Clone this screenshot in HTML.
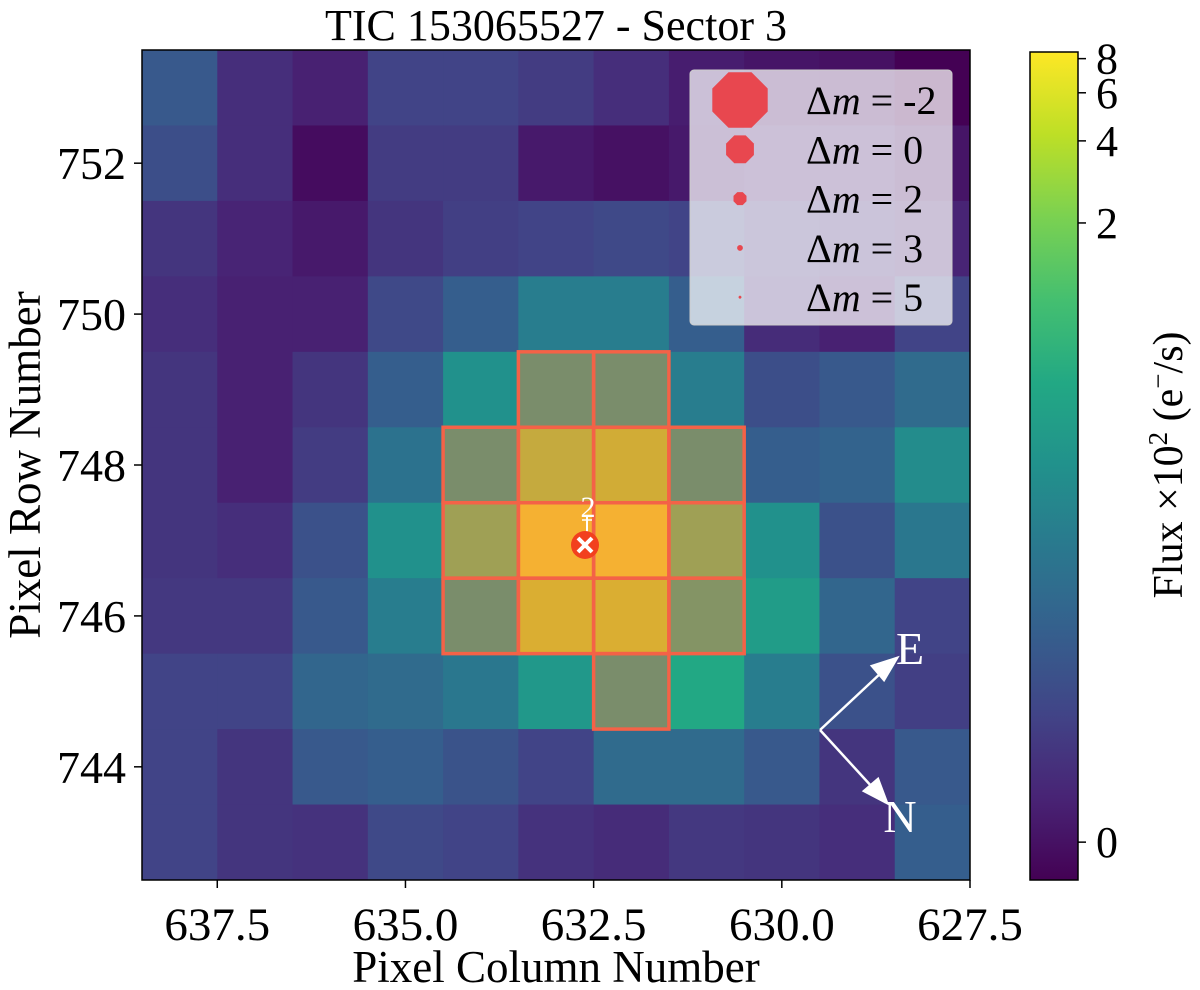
<!DOCTYPE html>
<html><head><meta charset="utf-8">
<style>
html,body{margin:0;padding:0;background:#fff;}
svg{display:block;font-family:"Liberation Serif","DejaVu Serif",serif;}
</style></head>
<body>
<svg id="chart" width="1200" height="990" viewBox="0 0 1200 990">
<g id="cells"></g>
<g id="aper"></g>
<rect x="142" y="50" width="828" height="830" fill="none" stroke="#000" stroke-width="1.5"/>
<g id="xticks"></g>
<g id="yticks"></g>
<text x="556" y="40" font-size="44" text-anchor="middle">TIC 153065527 - Sector 3</text>
<text x="556" y="982" font-size="45" text-anchor="middle">Pixel Column Number</text>
<text x="40" y="465" font-size="45" text-anchor="middle" transform="rotate(-90 40 465)">Pixel Row Number</text>
<g>
<line x1="587" y1="517" x2="587" y2="534" stroke="#fff" stroke-width="2"/>
<line x1="582" y1="520" x2="592" y2="520" stroke="#fff" stroke-width="1.5"/>
<text x="588" y="517" font-size="30" fill="#fff" text-anchor="middle">2</text>
<circle cx="585" cy="545" r="14" fill="#f2401e"/>
<path d="M578 538 L592 552 M592 538 L578 552" stroke="#fff" stroke-width="4"/>
</g>
<g>
<rect x="690" y="70" width="262" height="255" rx="4" fill="rgba(255,255,255,0.72)" stroke="#ccc"/>
<g id="legend-items"></g>
</g>
<g stroke="#fff" stroke-width="2.5" fill="#fff">
<line x1="820" y1="730" x2="882" y2="672"/>
<polygon points="897,658 872,666 884,680"/>
<line x1="820" y1="730" x2="873" y2="788"/>
<polygon points="887,803 878,779 864,791"/>
<text x="910" y="664" font-size="46" stroke="none" text-anchor="middle">E</text>
<text x="900" y="832" font-size="46" stroke="none" text-anchor="middle">N</text>
</g>
<defs><linearGradient id="cg" x1="0" y1="1" x2="0" y2="0"></linearGradient></defs>
<rect x="1030" y="52" width="48" height="828" fill="url(#cg)" stroke="#000" stroke-width="1.5"/>
<g id="cticks"></g>
<text x="1182" y="465" font-size="42" text-anchor="middle" transform="rotate(-90 1182 465)">Flux ×10<tspan dy="-15" font-size="27">2</tspan><tspan dy="15"> (e</tspan><tspan dy="-15" font-size="27">−</tspan><tspan dy="15">/s)</tspan></text>
</svg>
<script>
const rows = [753,752,751,750,749,748,747,746,745,744,743];
const cols = [638,637,636,635,634,633,632,631,630,629,628];
const flux = [
 [0.044,0.009,0.004,0.021,0.021,0.016,0.009,0.003,0.001,0.000,-0.003],
 [0.031,0.009,-0.001,0.016,0.016,0.002,0.000,0.002,0.004,0.004,0.001],
 [0.012,0.005,0.002,0.012,0.018,0.021,0.026,0.021,0.012,0.008,0.005],
 [0.009,0.004,0.004,0.026,0.052,0.137,0.137,0.052,0.008,0.004,0.021],
 [0.012,0.004,0.012,0.052,0.247,0.512,0.512,0.137,0.031,0.044,0.079],
 [0.012,0.004,0.016,0.100,0.512,3.07,3.80,0.512,0.052,0.062,0.215],
 [0.012,0.009,0.034,0.247,1.50,7.20,7.20,1.50,0.247,0.034,0.116],
 [0.014,0.014,0.044,0.137,0.512,4.38,4.38,0.735,0.356,0.067,0.021],
 [0.021,0.021,0.067,0.079,0.116,0.31,0.512,0.512,0.137,0.034,0.018],
 [0.021,0.012,0.044,0.052,0.037,0.021,0.079,0.079,0.044,0.012,0.044],
 [0.021,0.012,0.011,0.026,0.021,0.011,0.008,0.014,0.012,0.009,0.052]
];
const aperture = [[749,633],[749,632],[748,634],[748,633],[748,632],[748,631],[747,634],[747,633],[747,632],[747,631],[746,634],[746,633],[746,632],[746,631],[745,632]];
const xTicks = [637.5,635.0,632.5,630.0,627.5];
const yTicks = [752,750,748,746,744];
const cTicks = [0,2,4,6,8];
const legendMags = [-2,0,2,3,5];
const legendSizes = [30,15,7,3,1.5];

const NS='http://www.w3.org/2000/svg';
const X0=142,X1=970,Y0=50,Y1=880,CB0=52,CB1=880;
const colMax=638.5,colMin=627.5,rowMax=753.5,rowMin=742.5;
function xs(c){return X0+(colMax-c)/(colMax-colMin)*(X1-X0);}
function ys(r){return Y0+(rowMax-r)/(rowMax-rowMin)*(Y1-Y0);}
const C=0.011,VMIN=-0.003,VMAX=8.46;
function norm(v){const a=Math.log(VMIN+C),b=Math.log(VMAX+C);return Math.max(0,Math.min(1,(Math.log(Math.max(v+C,1e-6))-a)/(b-a)));}
const vir=['#440154','#482475','#414487','#355f8d','#2a788e','#21918c','#22a884','#44bf70','#7ad151','#bddf26','#fde725'];
function hex(h){return [1,3,5].map(i=>parseInt(h.substr(i,2),16));}
function cmap(t){const p=t*10,i=Math.min(9,Math.floor(p)),f=p-i;const a=hex(vir[i]),b=hex(vir[i+1]);return 'rgb('+a.map((x,k)=>Math.round(x+(b[k]-x)*f)).join(',')+')';}
function mk(tag,attrs,parent){const e=document.createElementNS(NS,tag);for(const k in attrs)e.setAttribute(k,attrs[k]);parent.appendChild(e);return e;}

const cw=(X1-X0)/11,ch=(Y1-Y0)/11;
const gc=document.getElementById('cells');
rows.forEach((r,i)=>cols.forEach((c,j)=>{
 const e=mk('rect',{x:xs(c+0.5),y:ys(r+0.5),width:cw+0.5,height:ch+0.5,fill:cmap(norm(flux[i][j]))},gc);
 
 
}));
const ga=document.getElementById('aper');
aperture.forEach(([r,c])=>{
 const e=mk('rect',{x:xs(c+0.5),y:ys(r+0.5),width:cw,height:ch,fill:'rgba(255,99,71,0.4)',stroke:'#f46247','stroke-width':3.5},ga);
 
 
});
const gx=document.getElementById('xticks');
xTicks.forEach(t=>{
 const x=xs(t);
 mk('line',{x1:x,y1:Y1,x2:x,y2:Y1+8,stroke:'#000','stroke-width':1.5},gx);
 const e=mk('text',{x:x,y:Y1+60,'font-size':47,'text-anchor':'middle'},gx);
 e.textContent=t.toFixed(1);
 
 
});
const gy=document.getElementById('yticks');
yTicks.forEach(t=>{
 const y=ys(t);
 mk('line',{x1:X0-8,y1:y,x2:X0,y2:y,stroke:'#000','stroke-width':1.5},gy);
 const e=mk('text',{x:X0-16,y:y+16,'font-size':46,'text-anchor':'end'},gy);
 e.textContent=t;
 
 
});
const grad=document.getElementById('cg');
for(let k=0;k<=20;k++){mk('stop',{offset:(k/20),'stop-color':cmap(k/20)},grad);}
const gct=document.getElementById('cticks');
cTicks.forEach(t=>{
 const y=CB1-norm(t)*(CB1-CB0);
 mk('line',{x1:1078,y1:y,x2:1086,y2:y,stroke:'#000','stroke-width':1.5},gct);
 const e=mk('text',{x:1096,y:y+15,'font-size':44},gct);
 e.textContent=t;
 
 
});
const gl=document.getElementById('legend-items');
legendMags.forEach((m,i)=>{
 const y=100+i*49.3;
 const s=legendSizes[i];
 const pts=[];for(let k=0;k<8;k++){const a=Math.PI/8+k*Math.PI/4;pts.push((740+s*Math.cos(a)).toFixed(1)+','+(y+s*Math.sin(a)).toFixed(1));}
 const p=mk('polygon',{points:pts.join(' '),fill:'#e8474f'},gl);
 
 
 const e=mk('text',{x:806,y:y+14,'font-size':40},gl);
 e.innerHTML='Δ<tspan font-style="italic">m</tspan> = '+m;
 
 
});
</script>
</body></html>
